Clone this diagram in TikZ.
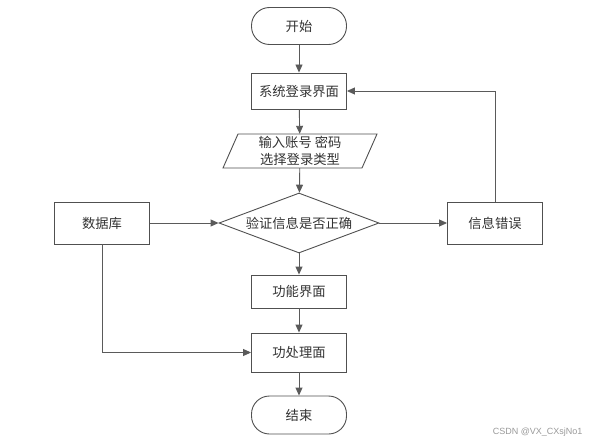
\documentclass[tikz,border=0pt]{standalone}
\usepackage{fontspec}
\setmainfont{Noto Sans CJK SC}
\newfontfamily\wmfont{Liberation Sans}
\usetikzlibrary{arrows.meta,shapes.geometric,calc}
\definecolor{edgec}{HTML}{505050}
\definecolor{linec}{HTML}{5A5A5A}
\tikzset{
  every node/.style={font=\fontsize{13.3}{16}\selectfont, text=black!80},
  boxst/.style={draw=edgec, line width=0.9pt, minimum width=95pt, inner sep=0pt, fill=white},
  termst/.style={boxst, rounded corners=18pt, minimum height=37pt},
  decst/.style={draw=edgec, line width=0.9pt, diamond, aspect=2.67, inner sep=0pt, minimum width=160pt, minimum height=60pt},
  arr/.style={draw=linec, line width=0.9pt, -{Triangle[length=8pt,width=7pt]}},
}
\begin{document}
\begin{tikzpicture}[x=1pt,y=-1pt]
\useasboundingbox (0,0) rectangle (592,444);
\node[termst] (start) at (299,26) {开始};
\node[boxst, minimum height=36pt] (login) at (299,91) {系统登录界面};
\draw[draw=edgec, line width=0.9pt, fill=white] (238,134) -- (377,134) -- (362,168) -- (223,168) -- cycle;
\node[inner sep=0pt, minimum width=124pt, minimum height=34pt, align=center, font=\fontsize{13.3}{17}\selectfont] (input) at (300,151) {输入账号 密码\\选择登录类型};
\node[decst] (check) at (299,223) {验证信息是否正确};
\node[boxst, minimum height=42pt] (db) at (102,223) {数据库};
\node[boxst, minimum height=42pt] (err) at (495,223) {信息错误};
\node[boxst, minimum height=33pt] (func) at (299,291.5) {功能界面};
\node[boxst, minimum height=39pt] (proc) at (299,352.5) {功处理面};
\node[termst, minimum height=38pt] (stop) at (299,415) {结束};
\node[font=\wmfont\fontsize{9}{11}\selectfont, text=black!40, anchor=east] (wm) at (586,432) {CSDN @VX\_CXsjNo1};
\draw[arr] (start) -- (login);
\draw[arr] (login) -- (input);
\draw[arr] (input) -- (check);
\draw[arr] (db) -- (check);
\draw[arr] (check) -- (err);
\draw[arr] (check) -- (func);
\draw[arr] (func) -- (proc);
\draw[arr] (proc) -- (stop);
\draw[arr] (err.north) |- (login.east);
\draw[arr] (db.south) |- (proc.west);
\end{tikzpicture}
\end{document}
